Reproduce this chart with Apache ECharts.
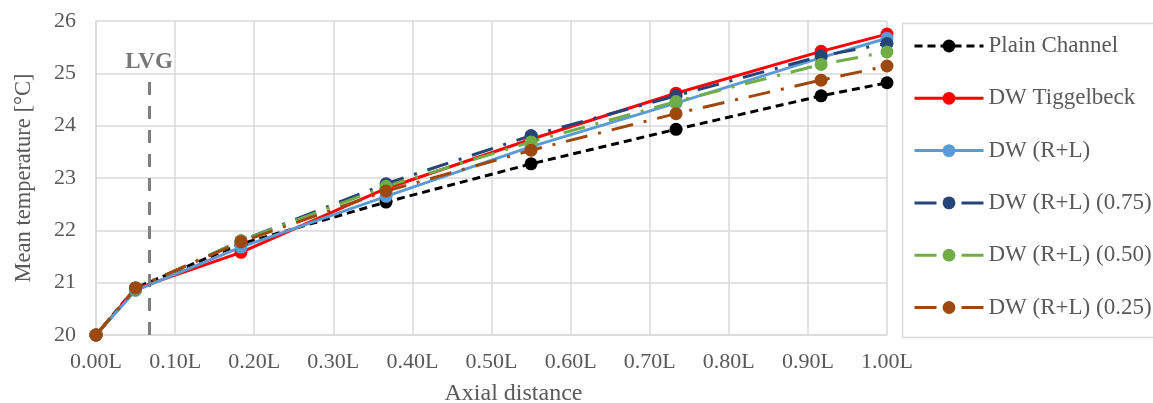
<!DOCTYPE html>
<html>
<head>
<meta charset="utf-8">
<script src="https://cdn.jsdelivr.net/npm/echarts@6/dist/echarts.min.js"></script>
<style>
  html, body { margin: 0; padding: 0; background: #ffffff; }
  #chart { width: 1153px; height: 403px; }
</style>
</head>
<body>
<div id="chart"></div>
<script>
// Axial positions (fraction of channel length L)
const axialPos = [0, 0.05, 0.1833, 0.3667, 0.55, 0.7333, 0.9167, 1.0];

// Mean temperature [°C] per configuration
const plainChannel = [20, 20.9, 21.74, 22.54, 23.27, 23.93, 24.57, 24.82];
const dwTiggelbeck = [20, 20.88, 21.58, 22.8, 23.74, 24.62, 25.42, 25.75];
const dwRL = [20, 20.85, 21.68, 22.65, 23.6, 24.43, 25.3, 25.67];
const dwRL075 = [20, 20.88, 21.8, 22.89, 23.81, 24.57, 25.33, 25.57];
const dwRL050 = [20, 20.88, 21.8, 22.84, 23.69, 24.46, 25.17, 25.41];
const dwRL025 = [20, 20.9, 21.78, 22.75, 23.53, 24.23, 24.87, 25.14];

// Vortex generator position and marker
const lvgPos = 0.067;
const lvgRange = [20, 25];
const lvgLabel = 'LVG';

const seriesNames = ['Plain Channel', 'DW Tiggelbeck', 'DW (R+L)',
  'DW (R+L) (0.75)', 'DW (R+L) (0.50)', 'DW (R+L) (0.25)'];

const FONT = '"Liberation Serif", "Times New Roman", serif';
const TEXT = '#595959';
const GRID = '#d9d9d9';
const DASH_DOT = [22, 11, 3, 11];

function pairs(ys) {
  return axialPos.map((x, i) => [x, ys[i]]);
}

function lineSeries(name, ys, color, dash) {
  return {
    name: name,
    type: 'line',
    data: pairs(ys),
    symbol: 'circle',
    symbolSize: 13,
    itemStyle: { color: color },
    lineStyle: { color: color, width: 3, type: dash, cap: 'butt' },
    emphasis: { disabled: true },
    z: 3
  };
}

const series = [
  lineSeries(seriesNames[0], plainChannel, '#000000', [8, 5]),
  lineSeries(seriesNames[1], dwTiggelbeck, '#ff0000', 'solid'),
  lineSeries(seriesNames[2], dwRL, '#5b9bd5', 'solid'),
  lineSeries(seriesNames[3], dwRL075, '#264478', DASH_DOT),
  lineSeries(seriesNames[4], dwRL050, '#70ad47', DASH_DOT),
  lineSeries(seriesNames[5], dwRL025, '#9e480e', DASH_DOT)
];

// LVG location drawn as a vertical dashed marker line
series[0].markLine = {
  silent: true,
  symbol: 'none',
  animation: false,
  lineStyle: { color: '#7f7f7f', width: 3, type: [13, 11], cap: 'butt' },
  label: {
    show: true,
    position: 'end',
    distance: 0,
    formatter: lvgLabel,
    fontFamily: FONT,
    fontWeight: 'bold',
    fontSize: 23,
    color: '#767676'
  },
  data: [[{ coord: [lvgPos, lvgRange[0]] }, { coord: [lvgPos, lvgRange[1]] }]]
};

const chart = echarts.init(document.getElementById('chart'));
chart.setOption({
  animation: false,
  backgroundColor: '#ffffff',
  grid: { left: 96, right: 266, top: 21, bottom: 68, containLabel: false, outerBoundsMode: 'none' },
  xAxis: {
    type: 'value',
    min: 0,
    max: 1,
    interval: 0.1,
    name: 'Axial distance',
    nameLocation: 'middle',
    nameGap: 47,
    nameTextStyle: { fontFamily: FONT, fontSize: 24, color: TEXT, padding: [0, 0, 0, 44] },
    axisLine: { show: true, lineStyle: { color: GRID, width: 1.5 } },
    axisTick: { show: false },
    axisLabel: {
      margin: 16,
      fontFamily: FONT,
      fontSize: 22,
      color: TEXT,
      formatter: v => v.toFixed(2) + 'L'
    },
    splitLine: { show: true, lineStyle: { color: GRID, width: 1.5 } }
  },
  yAxis: {
    type: 'value',
    min: 20,
    max: 26,
    interval: 1,
    name: 'Mean temperature [°C]',
    nameLocation: 'middle',
    nameGap: 60,
    nameTextStyle: { fontFamily: FONT, fontSize: 22.5, color: TEXT },
    axisLine: { show: true, lineStyle: { color: GRID, width: 1.5 } },
    axisTick: { show: false },
    axisLabel: { margin: 20, fontFamily: FONT, fontSize: 22, color: TEXT },
    splitLine: { show: true, lineStyle: { color: GRID, width: 1.5 } }
  },
  legend: {
    orient: 'vertical',
    left: 913,
    top: 33,
    padding: 0,
    itemWidth: 69,
    itemHeight: 16,
    itemGap: 26.3,
    selectedMode: false,
    data: seriesNames,
    lineStyle: { width: 3 },
    textStyle: { fontFamily: FONT, fontSize: 23, color: TEXT, lineHeight: 26 }
  },
  graphic: [{
    type: 'rect',
    left: 900,
    top: 21,
    shape: { width: 270, height: 314 },
    style: { fill: 'none', stroke: GRID, lineWidth: 1.5 },
    silent: true
  }],
  series: series
});
</script>
</body>
</html>
